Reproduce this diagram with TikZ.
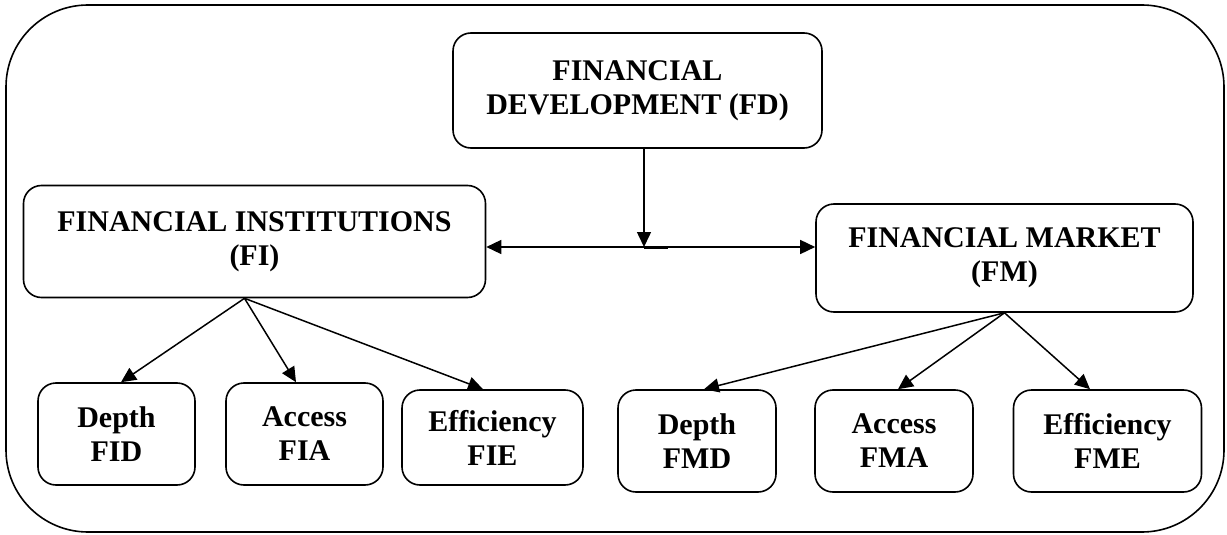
\documentclass[tikz,border=0pt]{standalone}
\usepackage{fontspec}
\setmainfont{Liberation Serif}
\usetikzlibrary{arrows.meta,calc}
\begin{document}
\begin{tikzpicture}[x=1pt,y=-1pt,
  box/.style={draw,line width=1.6pt,rounded corners=18pt,align=center,inner sep=0pt,
    font=\fontsize{30}{34}\selectfont\bfseries},
  conn/.style={line width=1.5pt,-{Triangle[length=15pt,width=14pt]}},
  conn2/.style={line width=1.5pt,{Triangle[length=15pt,width=14pt]}-{Triangle[length=15pt,width=14pt]}},
]
\useasboundingbox (0,0) rectangle (1227,535);
\draw[line width=1.6pt,rounded corners=82pt] (6,5) rectangle (1224,532);
\node[box,minimum width=369pt,minimum height=115pt] (FD) at (637.5,90.5) {FINANCIAL\\DEVELOPMENT (FD)};
\node[box,minimum width=462pt,minimum height=112pt] (FI) at (254.5,241.5) {FINANCIAL INSTITUTIONS\\(FI)};
\node[box,minimum width=377pt,minimum height=108pt] (FM) at (1004.5,258) {FINANCIAL MARKET\\(FM)};
\node[box,minimum width=157pt,minimum height=102pt] (FID) at (116.5,434) {Depth\\FID};
\node[box,minimum width=157pt,minimum height=102pt] (FIA) at (304.5,434) {Access\\FIA};
\node[box,minimum width=181pt,minimum height=95pt] (FIE) at (492.5,437.5) {Efficiency\\FIE};
\node[box,minimum width=158pt,minimum height=102pt] (FMD) at (697,441) {Depth\\FMD};
\node[box,minimum width=158pt,minimum height=102pt] (FMA) at (894,441) {Access\\FMA};
\node[box,minimum width=188pt,minimum height=102pt] (FME) at (1107.5,441) {Efficiency\\FME};
\coordinate (j) at (644,247);
\draw[conn] (FD.south -| j) -- (j);
\draw[conn2] (FI.east |- j) -- (FM.west |- j);
\draw[line width=1.5pt] ($(j)+(0,1)$) -- ($(j)+(24,1)$);
\coordinate (fiapex) at ([xshift=-10pt]FI.south);
\draw[conn] (fiapex) -- ([xshift=4.5pt]FID.north);
\draw[conn] (fiapex) -- ([xshift=-8.5pt]FIA.north);
\draw[conn] (fiapex) -- ([xshift=-9.5pt]FIE.north);
\draw[conn] (FM.south) -- ([xshift=7pt]FMD.north);
\draw[conn] (FM.south) -- ([xshift=4pt]FMA.north);
\draw[conn] (FM.south) -- ([xshift=-17.5pt]FME.north);
\end{tikzpicture}
\end{document}
